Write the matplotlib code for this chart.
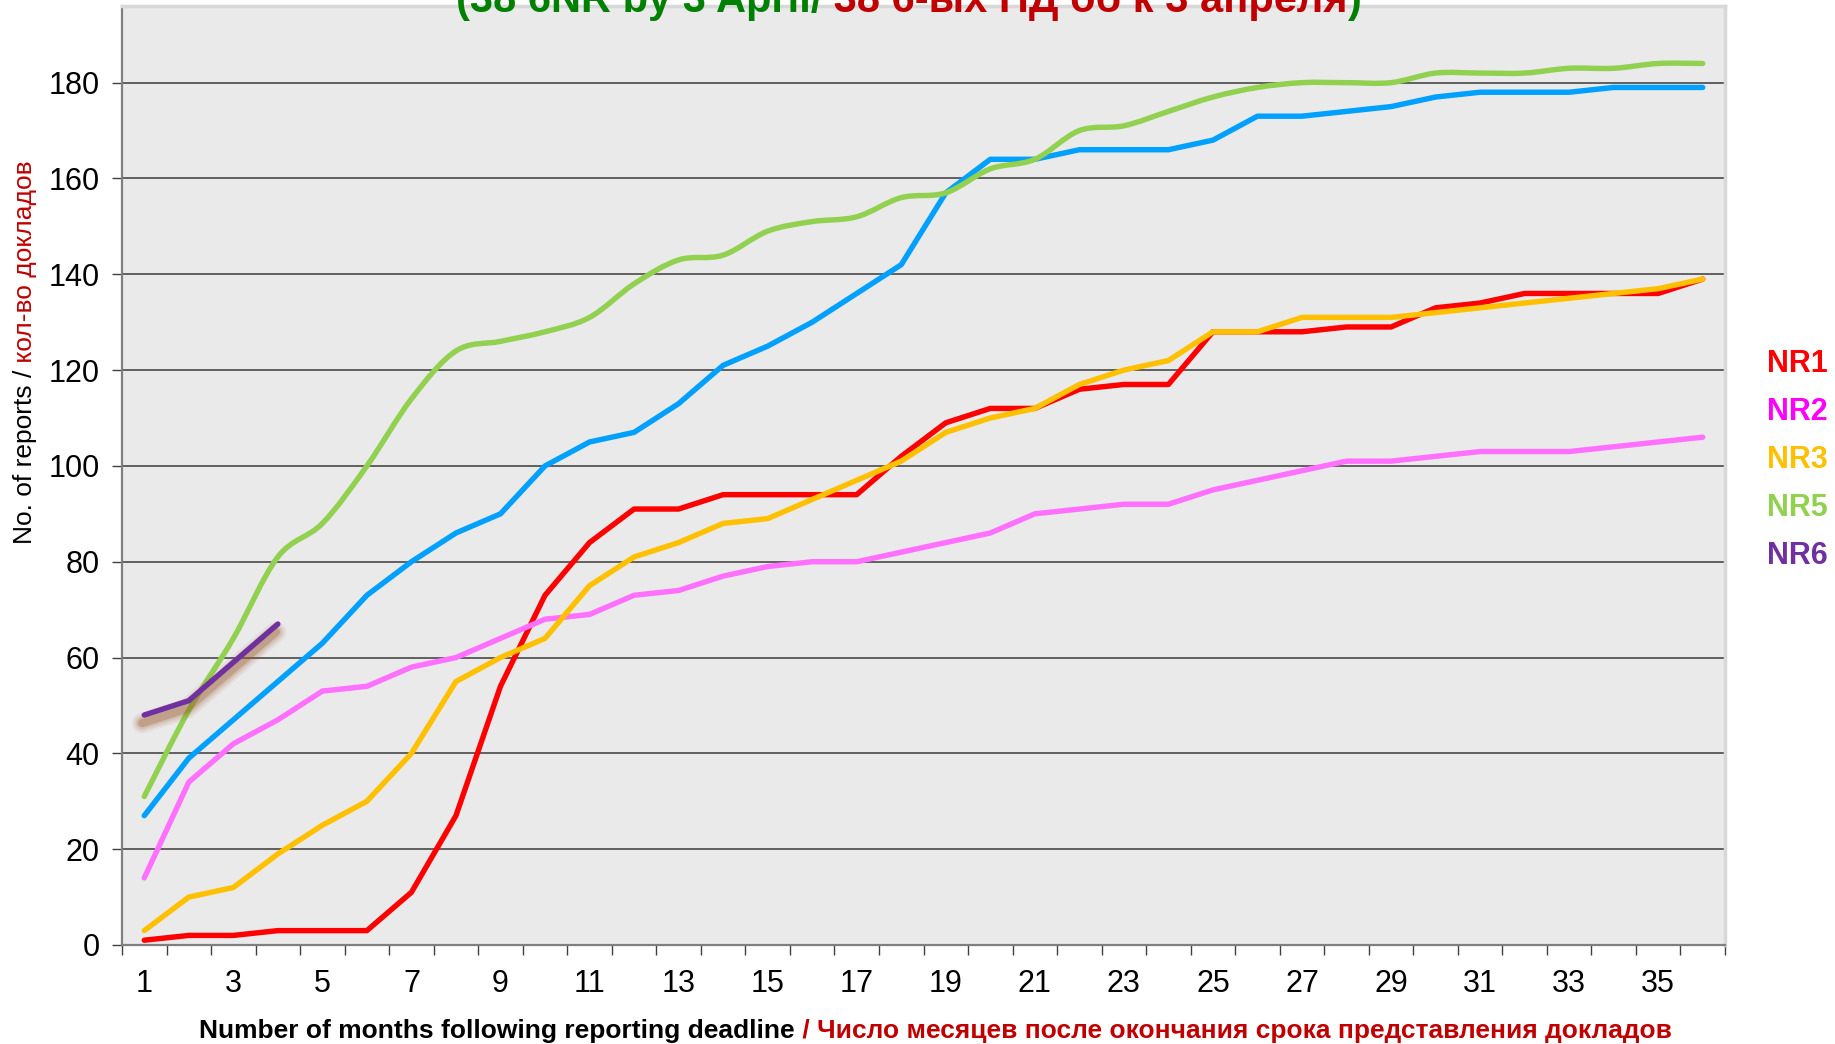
import matplotlib
matplotlib.use('Agg')
import matplotlib.pyplot as plt
import matplotlib.transforms as mtransforms
from matplotlib.path import Path
from matplotlib.patches import PathPatch
import numpy as np

plt.rcParams['font.family'] = ['Liberation Sans', 'DejaVu Sans']

# months after reporting deadline
months = list(range(1, 37))

nr1 = [1, 2, 2, 3, 3, 3, 11, 27, 54, 73, 84, 91, 91, 94, 94, 94, 94, 102, 109, 112, 112, 116,
       117, 117, 128, 128, 128, 129, 129, 133, 134, 136, 136, 136, 136, 139]
nr2 = [14, 34, 42, 47, 53, 54, 58, 60, 64, 68, 69, 73, 74, 77, 79, 80, 80, 82, 84, 86, 90, 91,
       92, 92, 95, 97, 99, 101, 101, 102, 103, 103, 103, 104, 105, 106]
nr3 = [3, 10, 12, 19, 25, 30, 40, 55, 60, 64, 75, 81, 84, 88, 89, 93, 97, 101, 107, 110, 112, 117,
       120, 122, 128, 128, 131, 131, 131, 132, 133, 134, 135, 136, 137, 139]
nr4 = [27, 39, 47, 55, 63, 73, 80, 86, 90, 100, 105, 107, 113, 121, 125, 130, 136, 142, 157, 164,
       164, 166, 166, 166, 168, 173, 173, 174, 175, 177, 178, 178, 178, 179, 179, 179]
nr5 = [31, 49, 64, 81, 88, 100, 114, 124, 126, 128, 131, 138, 143, 144, 149, 151, 152, 156, 157,
       162, 164, 170, 171, 174, 177, 179, 180, 180, 180, 182, 182, 182, 183, 183, 184, 184]
nr6 = [48, 51, 59, 67]

legend_names = ['NR1', 'NR2', 'NR3', 'NR5', 'NR6']
legend_colors = ['#FF0000', '#FF00FF', '#FFC000', '#92D050', '#7030A0']

xtick_labels = [str(m) for m in range(1, 37, 2)]
yticks = list(range(0, 181, 20))

RED = '#FF0000'
PINK = '#FF70FF'
YELLOW = '#FFC000'
BLUE = '#00A0FF'
GREEN = '#92D050'
PURPLE = '#7030A0'

fig = plt.figure(figsize=(18.35, 10.44), dpi=100)
ax = fig.add_axes([122 / 1835, 1 - 945 / 1044, (1725 - 122) / 1835, (945 - 6) / 1044])
ax.set_facecolor('#EAEAEA')

lw = 3.9
ax.plot(months, nr1, color=RED, lw=lw, solid_joinstyle='round', solid_capstyle='round', zorder=3)
ax.plot(months, nr2, color=PINK, lw=lw, solid_joinstyle='round', solid_capstyle='round', zorder=3)
ax.plot(months, nr3, color=YELLOW, lw=lw, solid_joinstyle='round', solid_capstyle='round', zorder=4)
ax.plot(months, nr4, color=BLUE, lw=lw, solid_joinstyle='round', solid_capstyle='round', zorder=4)


# smoothed line (like excel "smoothed line") drawn as bezier path
def smooth_path(xs, ys):
    pts = np.column_stack([xs, ys]).astype(float)
    verts = [pts[0]]
    codes = [Path.MOVETO]
    n = len(pts)
    for i in range(n - 1):
        p0 = pts[i - 1] if i > 0 else pts[i]
        p1 = pts[i]
        p2 = pts[i + 1]
        p3 = pts[i + 2] if i + 2 < n else pts[i + 1]
        c1 = p1 + (p2 - p0) / 6.0
        c2 = p2 - (p3 - p1) / 6.0
        verts += [c1, c2, p2]
        codes += [Path.CURVE4] * 3
    return Path(verts, codes)


ax.add_patch(PathPatch(smooth_path(months, nr5), fill=False, edgecolor=GREEN, lw=lw,
                       capstyle='round', joinstyle='round', zorder=5))

# NR6 with blurred brown shadow
x6 = months[:len(nr6)]
shadow = mtransforms.offset_copy(ax.transData, fig=fig, x=-2, y=-8, units='dots')
for w, a in [(15, 0.07), (12, 0.1), (9, 0.15), (6, 0.3)]:
    ax.plot(x6, nr6, color='#9C5A2E', lw=w, alpha=a, solid_capstyle='round',
            solid_joinstyle='round', transform=shadow, zorder=5)
ax.plot(x6, nr6, color=PURPLE, lw=lw, solid_joinstyle='round', solid_capstyle='round', zorder=6)

ax.set_xlim(0.5, 36.5)
ax.set_ylim(0, 196)
ax.set_yticks(yticks)
ax.set_xticks(range(1, 37, 2))
ax.set_xticklabels(xtick_labels)
ax.set_xticks(np.arange(0.5, 37, 1), minor=True)
ax.tick_params(axis='x', which='major', length=0, pad=17, labelsize=22)
ax.tick_params(axis='x', which='minor', length=7, width=1, color='#404040', direction='out')
ax.tick_params(axis='y', which='major', length=7, width=1, color='#404040', pad=9, labelsize=22)
ax.yaxis.grid(True, color='#3A3A3A', lw=1.1, zorder=1)
ax.set_axisbelow(True)

for s in ['left', 'bottom']:
    ax.spines[s].set_color('#7F7F7F')
    ax.spines[s].set_linewidth(1.6)
for s in ['top', 'right']:
    ax.spines[s].set_color('#D8D8D8')
    ax.spines[s].set_linewidth(2.5)

# legend labels on the right
for i, (name, c) in enumerate(zip(legend_names, legend_colors)):
    fig.text(1767 / 1835, 1 - (364 + 48 * i) / 1044, name, color=c, fontsize=22,
             fontweight='bold', ha='left', va='center')

fig.canvas.draw()
renderer = fig.canvas.get_renderer()


def multicolor_text(x, y, parts, colors, rotation=0, **kw):
    t = fig.transFigure
    for s, c in zip(parts, colors):
        txt = fig.text(x, y, s, color=c, transform=t, rotation=rotation,
                       rotation_mode='anchor', ha='left', va='baseline', **kw)
        txt.draw(renderer)
        ex = txt.get_window_extent(renderer)
        if rotation == 90:
            t = mtransforms.offset_copy(txt.get_transform(), fig=fig, y=ex.height, units='dots')
        else:
            t = mtransforms.offset_copy(txt.get_transform(), fig=fig, x=ex.width, units='dots')


# title (cut at the top edge as in the source)
multicolor_text(456 / 1835, 1 - 12 / 1044,
                ['(38 6NR by 3 April/', ' 38 6-ых НД об к 3 апреля', ')'],
                ['#008000', '#C00000', '#008000'], fontsize=30, fontweight='bold')

# x axis label
multicolor_text(199 / 1835, 1 - 1038 / 1044,
                ['Number of months following reporting deadline', ' / Число месяцев после окончания срока представления докладов'],
                ['#000000', '#C00000'], fontsize=19, fontweight='bold')

# y axis label
multicolor_text(32 / 1835, 1 - 544 / 1044,
                ['No. of reports /', ' кол-во докладов'],
                ['#000000', '#C00000'], rotation=90, fontsize=19)

fig.savefig('out.png', dpi=100)
